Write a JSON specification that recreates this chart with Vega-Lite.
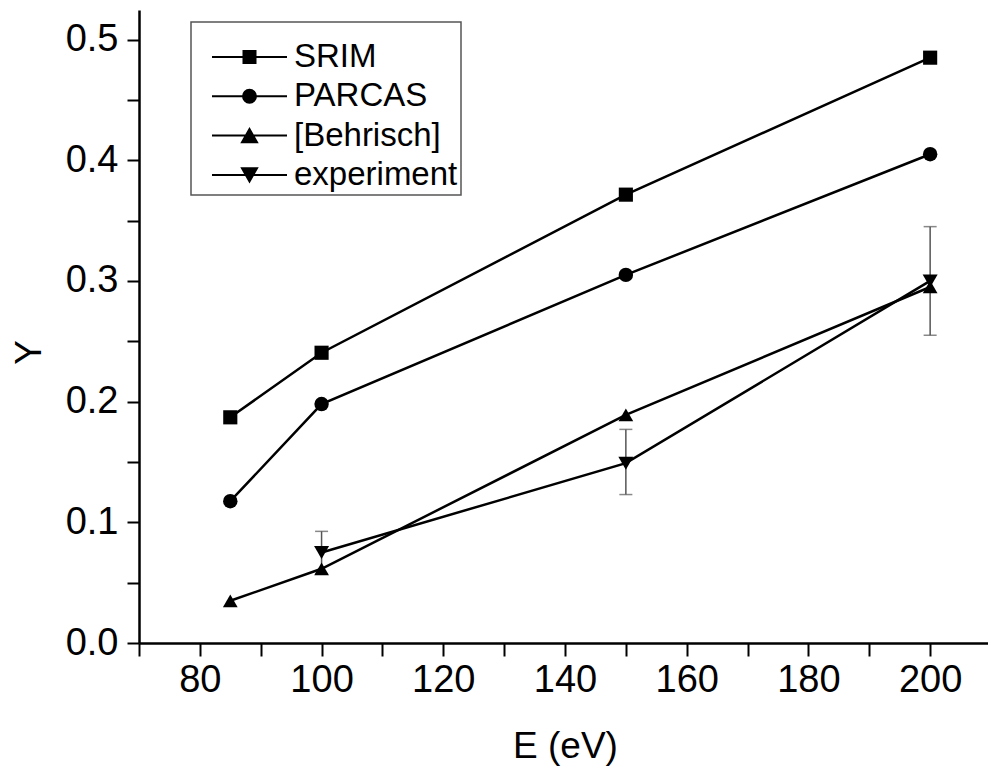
{
  "$schema": "https://vega.github.io/schema/vega-lite/v6.json",
  "autosize": {"type": "none"},
  "padding": {"left": 139, "top": 10, "right": 0, "bottom": 131},
  "width": 852,
  "height": 633,
  "background": "white",
  "datasets": {
    "pts": [
      {"E": 85, "Y": 0.187, "series": "SRIM"},
      {"E": 100, "Y": 0.2405, "series": "SRIM"},
      {"E": 150, "Y": 0.3715, "series": "SRIM"},
      {"E": 200, "Y": 0.485, "series": "SRIM"},
      {"E": 85, "Y": 0.1175, "series": "PARCAS"},
      {"E": 100, "Y": 0.198, "series": "PARCAS"},
      {"E": 150, "Y": 0.305, "series": "PARCAS"},
      {"E": 200, "Y": 0.405, "series": "PARCAS"},
      {"E": 85, "Y": 0.035, "series": "[Behrisch]"},
      {"E": 100, "Y": 0.0615, "series": "[Behrisch]"},
      {"E": 150, "Y": 0.189, "series": "[Behrisch]"},
      {"E": 200, "Y": 0.295, "series": "[Behrisch]"},
      {"E": 100, "Y": 0.075, "series": "experiment"},
      {"E": 150, "Y": 0.149, "series": "experiment"},
      {"E": 200, "Y": 0.3, "series": "experiment"}
    ],
    "err": [
      {"E": 100, "lo": 0.0575, "hi": 0.0925},
      {"E": 150, "lo": 0.123, "hi": 0.177},
      {"E": 200, "lo": 0.255, "hi": 0.345}
    ]
  },
  "config": {
    "view": {"stroke": null},
    "legend": {"strokeWidth": 1.5},
    "axis": {
      "grid": false,
      "domainColor": "black",
      "domainWidth": 2.5,
      "tickColor": "black",
      "tickWidth": 2,
      "labelFont": "Liberation Sans",
      "labelFontSize": 38,
      "labelColor": "black",
      "titleFont": "Liberation Sans",
      "titleFontSize": 37,
      "titleFontWeight": "normal",
      "titleColor": "black"
    }
  },
  "layer": [
    {
      "data": {"name": "err"},
      "mark": {"type": "rule", "color": "#555555", "strokeWidth": 1.5},
      "encoding": {
        "x": {"field": "E", "type": "quantitative"},
        "y": {"field": "lo", "type": "quantitative"},
        "y2": {"field": "hi"}
      }
    },
    {
      "data": {"name": "err"},
      "mark": {"type": "tick", "orient": "horizontal", "color": "#555555", "size": 13, "thickness": 1.5},
      "encoding": {
        "x": {"field": "E", "type": "quantitative"},
        "y": {"field": "lo", "type": "quantitative"}
      }
    },
    {
      "data": {"name": "err"},
      "mark": {"type": "tick", "orient": "horizontal", "color": "#555555", "size": 13, "thickness": 1.5},
      "encoding": {
        "x": {"field": "E", "type": "quantitative"},
        "y": {"field": "hi", "type": "quantitative"}
      }
    },
    {
      "data": {"name": "pts"},
      "mark": {"type": "line", "color": "black", "strokeWidth": 2.5},
      "encoding": {
        "x": {
          "field": "E", "type": "quantitative",
          "scale": {"domain": [70, 210], "nice": false, "zero": false},
          "axis": {
            "title": "E (eV)",
            "values": [70, 80, 90, 100, 110, 120, 130, 140, 150, 160, 170, 180, 190, 200, 210],
            "labelExpr": "datum.value % 20 === 0 ? datum.label : ''",
            "tickSize": 13,
            "encode": {"ticks": {"update": {"y2": {"signal": "datum.value % 20 === 0 ? 13 : 7"}}}},
            "labelPadding": 5,
            "titlePadding": 29,
            "labelFlush": false,
            "labelOverlap": false
          }
        },
        "y": {
          "field": "Y", "type": "quantitative",
          "scale": {"domain": [0, 0.5245], "nice": false},
          "axis": {
            "title": "Y",
            "values": [0, 0.05, 0.1, 0.15, 0.2, 0.25, 0.3, 0.35, 0.4, 0.45, 0.5],
            "labelExpr": "abs(datum.value * 10 - round(datum.value * 10)) < 0.001 ? format(datum.value, '.1f') : ''",
            "tickSize": 12,
            "encode": {"ticks": {"update": {"x2": {"signal": "abs(datum.value * 10 - round(datum.value * 10)) < 0.001 ? -12 : -6"}}}},
            "labelPadding": 9,
            "titlePadding": 17,
            "titleY": 342,
            "labelFlush": false,
            "labelOverlap": false
          }
        },
        "detail": {"field": "series"},
        "order": {"field": "E"}
      }
    },
    {
      "data": {"name": "pts"},
      "mark": {"type": "point", "filled": true, "color": "black", "opacity": 1},
      "encoding": {
        "x": {"field": "E", "type": "quantitative"},
        "y": {"field": "Y", "type": "quantitative"},
        "shape": {
          "field": "series", "type": "nominal",
          "scale": {"domain": ["SRIM", "PARCAS", "[Behrisch]", "experiment"], "range": ["square", "circle", "triangle-up", "triangle-down"]},
          "legend": null
        },
        "size": {
          "field": "series", "type": "nominal",
          "scale": {"domain": ["SRIM", "PARCAS", "[Behrisch]", "experiment"], "range": [200, 225, 324, 324]},
          "legend": null
        }
      }
    },
    {
      "data": {"name": "pts"},
      "mark": {"type": "point", "filled": false, "color": "black", "strokeWidth": 2, "opacity": 0, "size": 5625},
      "encoding": {
        "x": {"field": "E", "type": "quantitative"},
        "y": {"field": "Y", "type": "quantitative"},
        "shape": {
          "field": "series", "type": "nominal",
          "scale": {
            "domain": ["SRIM", "PARCAS", "[Behrisch]", "experiment"],
            "range": [
              "M-1,0H1M-0.16,-0.16H0.16V-0.12H-0.16V-0.08H0.16V-0.04H-0.16V0H0.16V0.04H-0.16V0.08H0.16V0.12H-0.16V0.16H0.16M-0.16,-0.16H0.16V0.16H-0.16Z",
              "M-1,0H1M-0.066,-0.16H0.066M-0.125,-0.12H0.125M-0.153,-0.08H0.153M-0.168,-0.04H0.168M-0.168,0.04H0.168M-0.153,0.08H0.153M-0.125,0.12H0.125M-0.066,0.16H0.066M0.173,0A0.173,0.173 0 1,1 -0.173,0A0.173,0.173 0 1,1 0.173,0Z",
              "M-1,0H1M-0.023,-0.135H0.023M-0.046,-0.095H0.046M-0.069,-0.055H0.069M-0.091,-0.015H0.091M-0.114,0.025H0.114M-0.137,0.065H0.137M-0.16,0.105H0.16M-0.183,0.145H0.183M-0.2,0.175L0.2,0.175L0,-0.175Z",
              "M-1,0H1M-0.023,0.135H0.023M-0.046,0.095H0.046M-0.069,0.055H0.069M-0.091,0.015H0.091M-0.114,-0.025H0.114M-0.137,-0.065H0.137M-0.16,-0.105H0.16M-0.183,-0.145H0.183M-0.2,-0.175L0.2,-0.175L0,0.175Z"
            ]
          },
          "legend": {
            "title": ".",
            "titleFontSize": 15,
            "titlePadding": 5,
            "titleColor": "white",
            "orient": "none",
            "legendX": 52,
            "legendY": 12,
            "symbolSize": 5625,
            "symbolOffset": 17,
            "symbolStrokeColor": "black",
            "symbolStrokeWidth": 2,
            "symbolOpacity": 1,
            "labelOffset": 6,
            "labelLimit": 400,
            "labelFont": "Liberation Sans",
            "labelFontSize": 33,
            "labelColor": "black",
            "clipHeight": 24,
            "rowPadding": 6.3,
            "padding": 3,
            "strokeColor": "#555555",
            "fillColor": "white"
          }
        }
      }
    }
  ],
  "resolve": {"scale": {"shape": "independent"}, "legend": {"shape": "independent"}}
}
